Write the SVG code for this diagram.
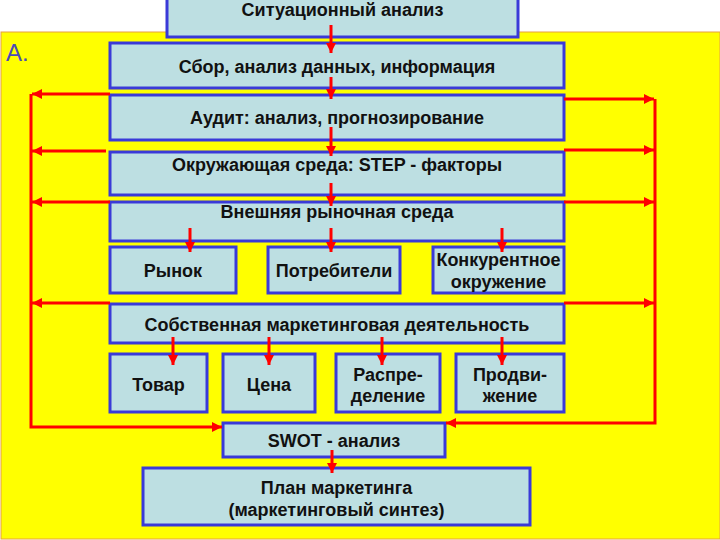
<svg xmlns="http://www.w3.org/2000/svg" width="720" height="540" viewBox="0 0 720 540">
<style>
.box{fill:#BDDFE2;stroke:#3A3AD8;stroke-width:3}
.t{font-family:"Liberation Sans",Arial,sans-serif;font-weight:bold;font-size:18px;fill:#111;text-anchor:middle}
.c{fill:none;stroke:#FF0000;stroke-width:3}
</style>
<defs>
<marker id="ah" markerUnits="userSpaceOnUse" markerWidth="10" markerHeight="10" refX="10" refY="5" orient="auto">
<path d="M0,0 L10,5 L0,10 z" fill="#FF0000"/>
</marker>
</defs>
<rect x="0" y="0" width="720" height="540" fill="#FFFFFF"/>
<rect x="1" y="32" width="719" height="507" fill="#FFFF00" stroke="#E8A040" stroke-width="1"/>
<text x="6" y="61" font-family="'Liberation Sans',Arial,sans-serif" font-size="24" fill="#4A4AB8">А.</text>

<g id="n-situation"><rect class="box" x="167" y="-3" width="351" height="40"/><text class="t" x="342.5" y="16">Ситуационный анализ</text></g>
<g id="n-sbor"><rect class="box" x="110" y="43" width="454" height="45"/><text class="t" x="337" y="73">Сбор, анализ данных, информация</text></g>
<g id="n-audit"><rect class="box" x="110" y="95" width="454" height="45"/><text class="t" x="337" y="124">Аудит: анализ, прогнозирование</text></g>
<g id="n-env"><rect class="box" x="110" y="152" width="454" height="43"/><text class="t" x="337" y="171">Окружающая среда: STEP - факторы</text></g>
<g id="n-ext"><rect class="box" x="110" y="202" width="454" height="39"/><text class="t" x="337" y="218">Внешняя рыночная среда</text></g>
<g id="n-market"><rect class="box" x="110" y="247" width="126" height="46"/><text class="t" x="173" y="277">Рынок</text></g>
<g id="n-consumers"><rect class="box" x="268" y="247" width="132" height="46"/><text class="t" x="334" y="277">Потребители</text></g>
<g id="n-competitors"><rect class="box" x="433" y="247" width="131" height="46"/><text class="t" x="498.5" y="266">Конкурентное</text><text class="t" x="498.5" y="288">окружение</text></g>
<g id="n-own"><rect class="box" x="110" y="304" width="454" height="39"/><text class="t" x="337" y="331">Собственная маркетинговая деятельность</text></g>
<g id="n-product"><rect class="box" x="110" y="354" width="97" height="58"/><text class="t" x="158.5" y="391">Товар</text></g>
<g id="n-price"><rect class="box" x="223" y="354" width="92" height="58"/><text class="t" x="269" y="391">Цена</text></g>
<g id="n-distr"><rect class="box" x="336" y="354" width="104" height="58"/><text class="t" x="388" y="381">Распре-</text><text class="t" x="388" y="402">деление</text></g>
<g id="n-promo"><rect class="box" x="456" y="354" width="108" height="58"/><text class="t" x="510" y="381">Продви-</text><text class="t" x="510" y="402">жение</text></g>
<g id="n-swot"><rect class="box" x="223" y="423" width="222" height="34"/><text class="t" x="334" y="447">SWOT - анализ</text></g>
<g id="n-plan"><rect class="box" x="143" y="468" width="387" height="57"/><text class="t" x="336.5" y="494">План маркетинга</text><text class="t" x="336.5" y="516">(маркетинговый синтез)</text></g>

<g id="connectors">
<line class="c" x1="331" y1="25" x2="331" y2="53" marker-end="url(#ah)"/>
<line class="c" x1="331" y1="77" x2="331" y2="99" marker-end="url(#ah)"/>
<line class="c" x1="331" y1="127" x2="331" y2="156" marker-end="url(#ah)"/>
<line class="c" x1="331" y1="183" x2="331" y2="206" marker-end="url(#ah)"/>
<line class="c" x1="190" y1="228" x2="190" y2="252" marker-end="url(#ah)"/>
<line class="c" x1="331" y1="228" x2="331" y2="252" marker-end="url(#ah)"/>
<line class="c" x1="502" y1="228" x2="502" y2="252" marker-end="url(#ah)"/>
<line class="c" x1="173" y1="337" x2="173" y2="365" marker-end="url(#ah)"/>
<line class="c" x1="269" y1="337" x2="269" y2="365" marker-end="url(#ah)"/>
<line class="c" x1="382" y1="337" x2="382" y2="365" marker-end="url(#ah)"/>
<line class="c" x1="502" y1="337" x2="502" y2="365" marker-end="url(#ah)"/>
<line class="c" x1="332" y1="450" x2="332" y2="473" marker-end="url(#ah)"/>
<line class="c" x1="110" y1="94" x2="32" y2="94" marker-end="url(#ah)"/>
<line class="c" x1="106" y1="151" x2="32" y2="151" marker-end="url(#ah)"/>
<line class="c" x1="110" y1="202" x2="32" y2="202" marker-end="url(#ah)"/>
<line class="c" x1="110" y1="303" x2="32" y2="303" marker-end="url(#ah)"/>
<line class="c" x1="564" y1="99" x2="654" y2="99" marker-end="url(#ah)"/>
<line class="c" x1="564" y1="150" x2="654" y2="150" marker-end="url(#ah)"/>
<line class="c" x1="564" y1="202" x2="654" y2="202" marker-end="url(#ah)"/>
<line class="c" x1="564" y1="303" x2="654" y2="303" marker-end="url(#ah)"/>
<path class="c" d="M31,94 L31,427 L222,427" marker-end="url(#ah)"/>
<path class="c" d="M655,99 L655,423 L446,423" marker-end="url(#ah)"/>
</g>
</svg>
